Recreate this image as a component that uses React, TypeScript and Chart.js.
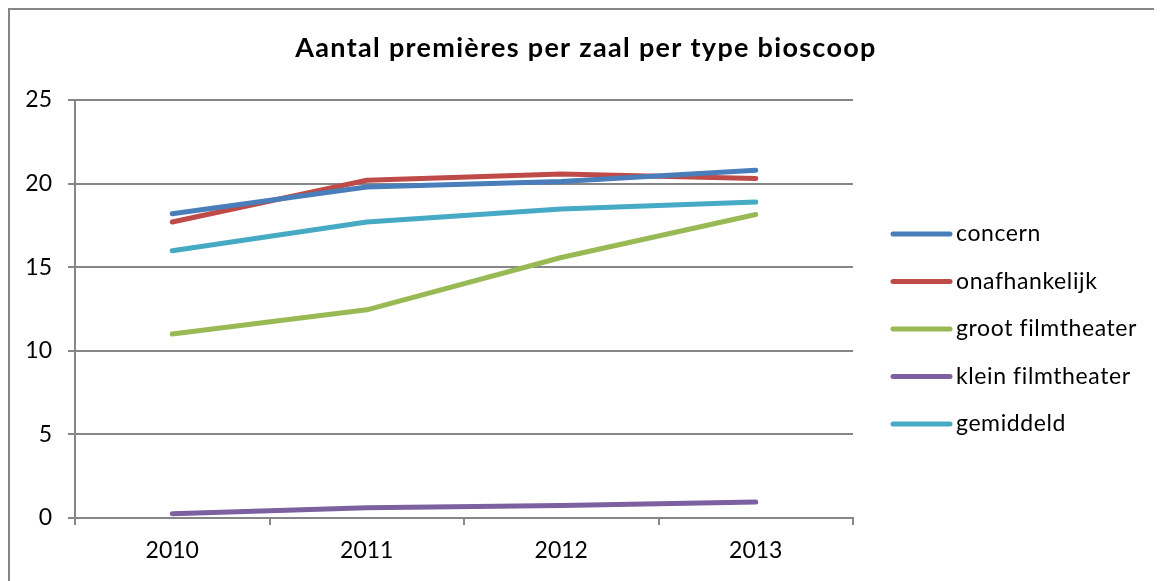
import React, { useEffect, useRef } from "react";
import { Chart, registerables } from "chart.js";

Chart.register(...registerables);

const titleText = "Aantal premières per zaal per type bioscoop";
const years = ["2010", "2011", "2012", "2013"];
const concern = [18.2, 19.8, 20.12, 20.8];
const onafhankelijk = [17.7, 20.2, 20.57, 20.3];
const grootFilmtheater = [11.0, 12.45, 15.58, 18.15];
const kleinFilmtheater = [0.26, 0.62, 0.75, 0.95];
const gemiddeld = [15.98, 17.7, 18.48, 18.9];
const seriesNames = ["concern", "onafhankelijk", "groot filmtheater", "klein filmtheater", "gemiddeld"];
const seriesValues = [concern, onafhankelijk, grootFilmtheater, kleinFilmtheater, gemiddeld];
const seriesColors = ["#4A7EBB", "#BE4B48", "#98B954", "#7D60A0", "#46AAC5"];
const yMin = 0;
const yMax = 25;
const yStep = 5;

const FONT = "Lato, 'Open Sans', sans-serif";
const GRID = "#868686";

const titleLegendPlugin = {
  id: "excelTitleLegend",
  afterDraw(chart: any) {
    const ctx = chart.ctx;
    const area = chart.chartArea;
    ctx.save();
    // title
    ctx.fillStyle = "#000";
    ctx.font = `bold 27px ${FONT}`;
    (ctx as any).letterSpacing = "1.3px";
    ctx.textAlign = "center";
    ctx.textBaseline = "middle";
    ctx.fillText(titleText, chart.width / 2, 38);
    // legend
    (ctx as any).letterSpacing = "0.6px";
    const x0 = area.right + 40;
    const y0 = 224;
    const step = 47.5;
    chart.data.datasets.forEach((ds: any, i: number) => {
      const y = y0 + i * step;
      ctx.strokeStyle = ds.borderColor;
      ctx.lineWidth = 5;
      ctx.lineCap = "round";
      ctx.beginPath();
      ctx.moveTo(x0, y);
      ctx.lineTo(x0 + 57, y);
      ctx.stroke();
      ctx.fillStyle = "#000";
      ctx.font = `23px ${FONT}`;
      ctx.textBaseline = "middle";
      ctx.textAlign = "left";
      ctx.fillText(ds.label, x0 + 63, y);
    });
    ctx.restore();
  },
};

export default function App() {
  const ref = useRef<HTMLCanvasElement | null>(null);

  useEffect(() => {
    if (!ref.current) return;
    const chart = new Chart(ref.current, {
      type: "line",
      data: {
        labels: years,
        datasets: seriesNames.map((name, i) => ({
          label: name,
          data: seriesValues[i],
          borderColor: seriesColors[i],
          backgroundColor: seriesColors[i],
          borderWidth: 5,
          borderCapStyle: "round",
          borderJoinStyle: "round",
          pointRadius: 0,
          pointHoverRadius: 0,
          tension: 0,
          fill: false,
        })),
      },
      options: {
        responsive: false,
        animation: false,
        devicePixelRatio: 1,
        layout: { padding: { left: 0, right: 309, top: 90, bottom: 0 } },
        plugins: {
          legend: { display: false },
          tooltip: { enabled: false },
          title: { display: false },
        },
        scales: {
          x: {
            offset: true,
            grid: {
              offset: true,
              drawOnChartArea: false,
              drawTicks: true,
              tickLength: 7,
              color: GRID,
              lineWidth: 2,
            },
            border: { display: true, color: GRID, width: 2 },
            ticks: { color: "#000", font: { family: FONT, size: 23 }, padding: 12 },
            afterFit(scale: any) {
              scale.height = 63;
            },
          },
          y: {
            min: yMin,
            max: yMax,
            grid: {
              drawOnChartArea: true,
              drawTicks: true,
              tickLength: 7,
              color: GRID,
              lineWidth: 2,
            },
            border: { display: true, color: GRID, width: 2 },
            ticks: {
              stepSize: yStep,
              color: "#000",
              font: { family: FONT, size: 23 },
              padding: 16,
            },
            afterFit(scale: any) {
              scale.width = 65;
            },
          },
        },
      },
      plugins: [titleLegendPlugin],
    } as any);
    return () => chart.destroy();
  }, []);

  return (
    <>
      <style>{"html,body{overflow:hidden}"}</style>
      <div
        style={{
          width: 1152,
          height: 571,
          borderLeft: `2px solid ${GRID}`,
          borderTop: `2px solid ${GRID}`,
        }}
      >
        <canvas ref={ref} width={1152} height={571} style={{ display: "block", width: 1152, height: 571 }} />
      </div>
    </>
  );
}
